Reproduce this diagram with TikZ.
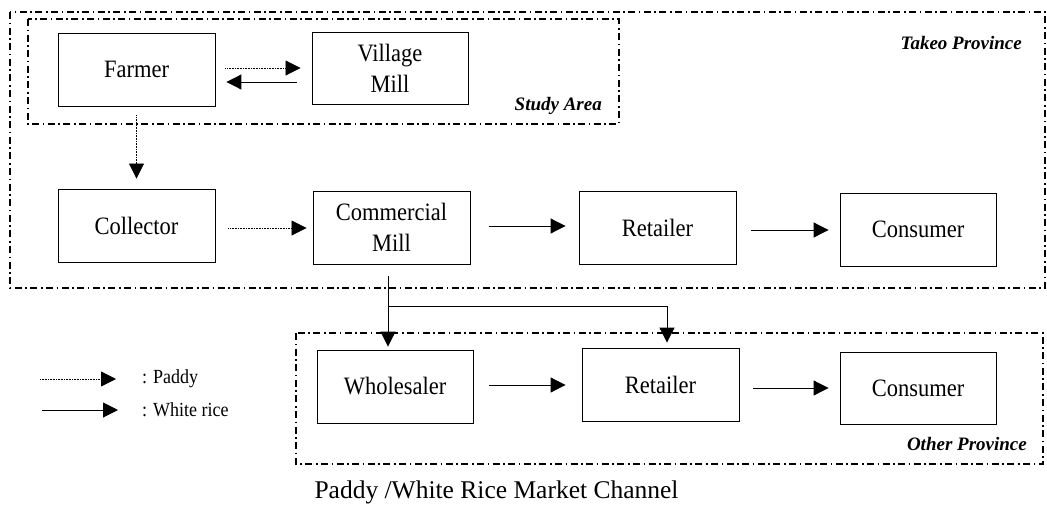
\documentclass[tikz,border=0pt]{standalone}
\usepackage{fontspec}
\setmainfont{Liberation Serif}
\newfontfamily\tallserif[FakeStretch=0.9]{Liberation Serif}
\usetikzlibrary{arrows.meta}
\begin{document}
\begin{tikzpicture}[x=1pt,y=-1pt,
  box/.style={draw,line width=0.9pt,minimum width=157pt,minimum height=73pt,inner sep=0pt,align=center,font=\tallserif\fontsize{25}{31}\selectfont},
  region/.style={line width=1.2pt,dash pattern=on 7pt off 3.5pt on 1.6pt off 3.5pt},
  rlabel/.style={font=\fontsize{19}{22}\selectfont\bfseries\itshape,inner sep=0pt},
  tip/.style={-{Triangle[length=15pt,width=15pt]}},
  rice/.style={tip,line width=1pt},
  paddy/.style={tip,line width=0.8pt,dash pattern=on 0.8pt off 0.8pt},
  legtext/.style={font=\tallserif\fontsize{20}{22}\selectfont,anchor=west,inner sep=0pt}
]
\useasboundingbox (0,0) rectangle (1047,515);
% regions
\draw[region] (10,12) rectangle (1045,288);
\draw[region] (28,19) rectangle (619,124);
\draw[region] (296,333) rectangle (1043,464);
\node[rlabel,anchor=east] (takeo) at (1022,43) {Takeo Province};
\node[rlabel,anchor=east] (study) at (602,106) {Study Area};
\node[rlabel,anchor=east] (other) at (1027,444) {Other Province};
% boxes
\node[box] (farmer) at (136.5,69.5) {Farmer};
\node[box,minimum width=156pt,minimum height=72pt] (vmill) at (390,68) {Village\\Mill};
\node[box] (collector) at (136.5,225.5) {Collector};
\node[box] (cmill) at (391.5,227.5) {Commercial\\Mill};
\node[box] (retailer) at (657.5,227.5) {Retailer};
\node[box,minimum width=156pt] (consumer) at (918,229.5) {Consumer};
\node[box,minimum width=156pt] (wholesaler) at (395,386.5) {Wholesaler};
\node[box] (retailer2) at (660.5,384.5) {Retailer};
\node[box,minimum width=156pt,minimum height=72pt] (consumer2) at (918,388) {Consumer};
% connectors
\draw[paddy] ([xshift=10pt,yshift=1.5pt]farmer.east) -- ([xshift=-11pt]vmill.west);
\draw[rice] ([xshift=-15pt,yshift=-14pt]vmill.west) -- ([xshift=11pt,yshift=-12.5pt]farmer.east);
\draw[paddy] ([yshift=-9pt]farmer.south) -- ([yshift=10pt]collector.north);
\draw[paddy] ([xshift=13pt,yshift=-2.5pt]collector.east) -- ([xshift=-6pt,yshift=-0.5pt]cmill.west);
\draw[rice] ([xshift=19pt,yshift=1.5pt]cmill.east) -- ([xshift=-13pt,yshift=1.5pt]retailer.west);
\draw[rice] ([xshift=15pt,yshift=-2.5pt]retailer.east) -- ([xshift=-11pt,yshift=-0.5pt]consumer.west);
\coordinate (split) at (388,306);
\coordinate (turn) at (667,306);
\draw[line width=1pt] ([xshift=-3.5pt,yshift=-12pt]cmill.south) -- (split) -- (turn);
\draw[rice] (split) -- ([xshift=-7pt,yshift=3pt]wholesaler.north);
\draw[rice] (turn) -- ([xshift=6.5pt,yshift=5pt]retailer2.north);
\draw[rice] ([xshift=16pt,yshift=1.5pt]wholesaler.east) -- ([xshift=-16pt,yshift=-0.5pt]retailer2.west);
\draw[rice] ([xshift=14pt,yshift=-3.5pt]retailer2.east) -- ([xshift=-11pt]consumer2.west);
% legend
\coordinate (lp1) at (40,379);
\coordinate (lp2) at (116,379);
\coordinate (lr1) at (42,410);
\coordinate (lr2) at (118,410);
\draw[paddy] (lp1) -- (lp2);
\draw[rice] (lr1) -- (lr2);
\node[legtext] (lpaddy) at (142,379) {: Paddy};
\node[legtext] (lrice) at (142,410) {: White rice};
% caption
\node[font=\fontsize{25.5}{28}\selectfont,inner sep=0pt] (caption) at (496.5,492) {Paddy /White Rice Market Channel};
\end{tikzpicture}
\end{document}
